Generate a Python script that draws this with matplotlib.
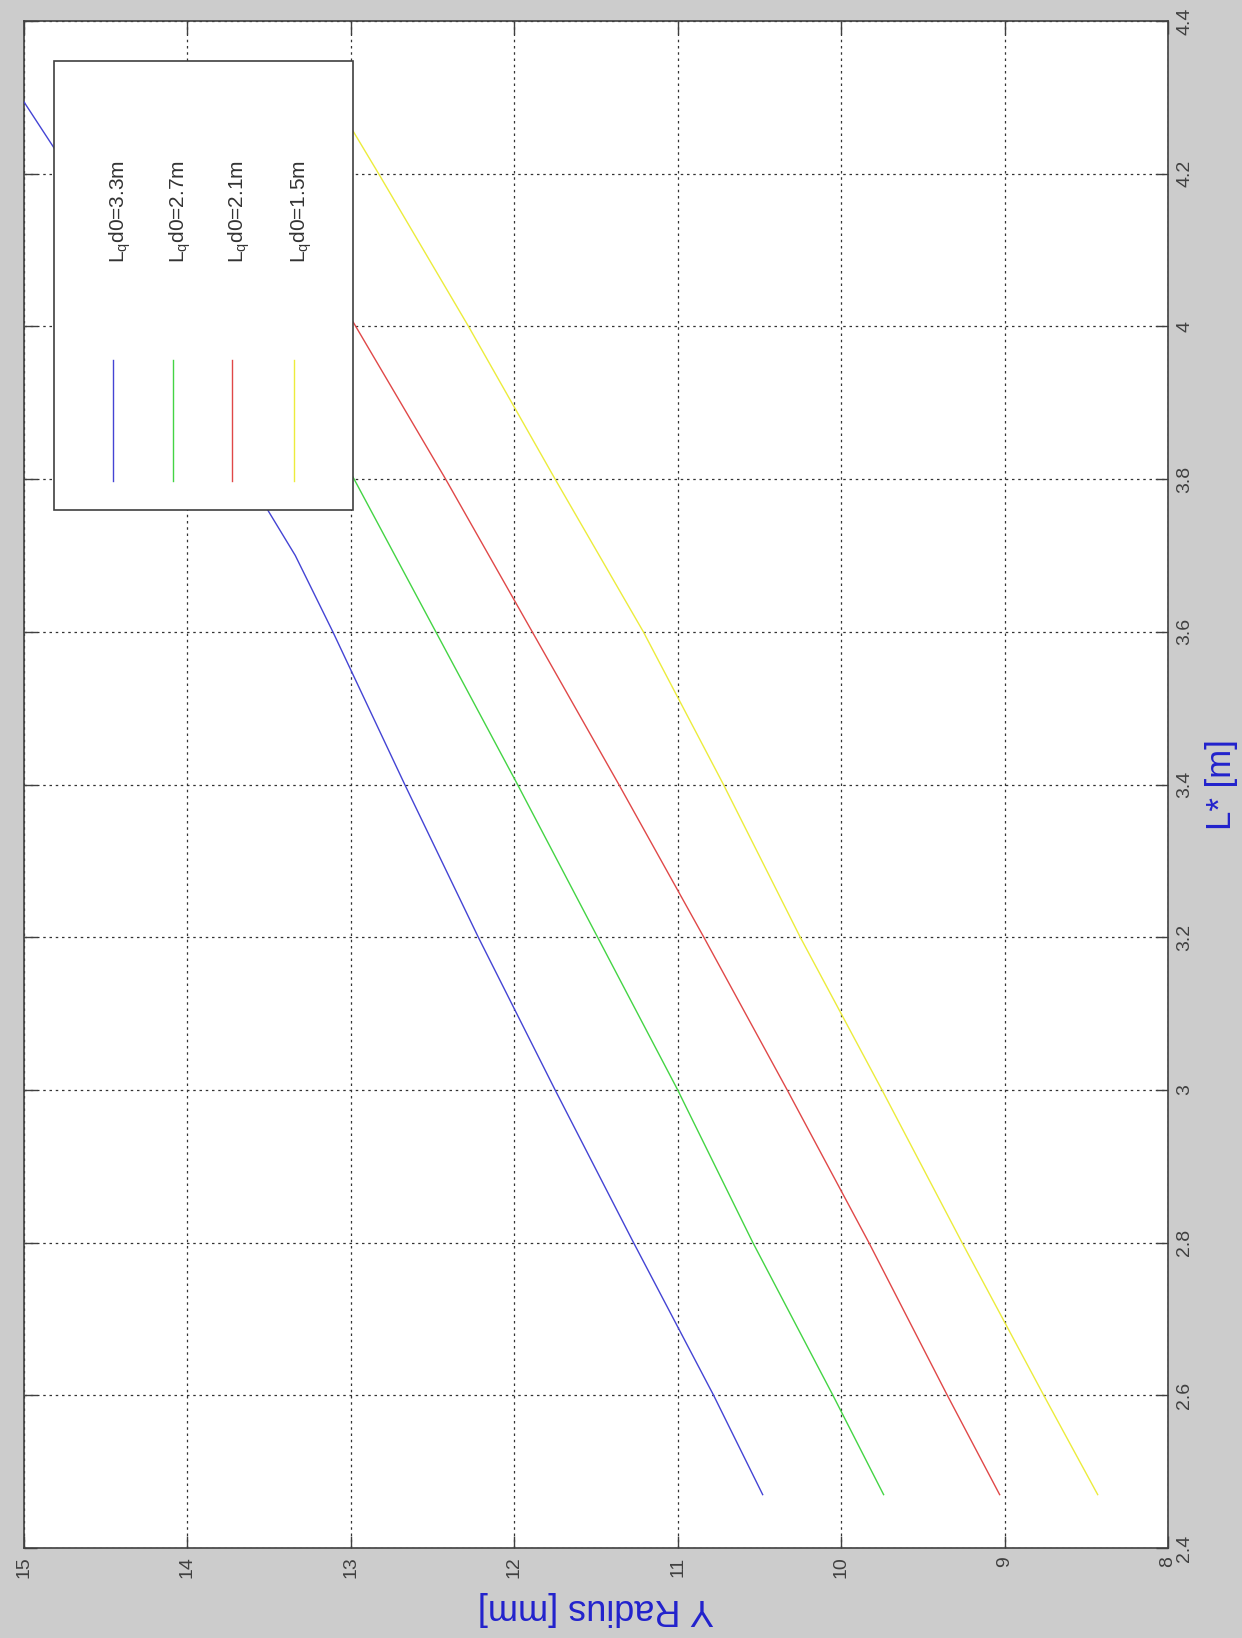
import matplotlib
matplotlib.use("Agg")
import matplotlib.pyplot as plt
from matplotlib.patches import Rectangle

plt.rcParams['font.family'] = ['Liberation Sans', 'DejaVu Sans']
plt.rcParams['mathtext.default'] = 'regular'

# data: L* [m] against Y radius [mm]
L_33 = [2.47, 2.6, 2.8, 3.0, 3.2, 3.4, 3.6, 3.7, 3.76, 4.235, 4.294]
r_33 = [10.48, 10.78, 11.27, 11.75, 12.22, 12.67, 13.11, 13.34, 13.51, 14.82, 15.0]
L_27 = [2.47, 2.6, 2.8, 3.0, 3.2, 3.4, 3.6, 3.8, 4.3]
r_27 = [9.74, 10.05, 10.54, 11.0, 11.49, 11.98, 12.48, 12.98, 14.28]
L_21 = [2.47, 2.6, 2.8, 3.0, 3.2, 3.4, 3.6, 3.8, 4.0, 4.3]
r_21 = [9.03, 9.35, 9.83, 10.33, 10.84, 11.36, 11.89, 12.42, 12.97, 13.8]
L_15 = [2.47, 2.6, 2.8, 3.0, 3.2, 3.4, 3.6, 3.8, 4.0, 4.2, 4.3]
r_15 = [8.43, 8.76, 9.26, 9.75, 10.25, 10.72, 11.21, 11.75, 12.28, 12.83, 13.11]

labels = [r'L$_q$d0=3.3m', r'L$_q$d0=2.7m', r'L$_q$d0=2.1m', r'L$_q$d0=1.5m']
colors = ['#4444d4', '#44d444', '#e04848', '#ecec3c']

r_ticks = [8, 9, 10, 11, 12, 13, 14, 15]
L_ticks = [2.4, 2.6, 2.8, 3.0, 3.2, 3.4, 3.6, 3.8, 4.0, 4.2, 4.4]
L_ticklbls = ['2.4', '2.6', '2.8', '3', '3.2', '3.4', '3.6', '3.8', '4', '4.2', '4.4']

fig = plt.figure(figsize=(12.42, 16.38), dpi=100, facecolor='#cccccc')
ax = fig.add_axes([0.0193, 0.0549, 0.9211, 0.9323])
ax.set_facecolor('white')

# the whole matlab figure is turned a quarter turn, so radius runs along the bottom
series = [(L_33, r_33), (L_27, r_27), (L_21, r_21), (L_15, r_15)]
for (L, r), c in zip(series, colors):
    ax.plot(r, L, color=c, lw=1.0, zorder=3)

ax.set_xlim(15, 8)
ax.set_ylim(2.4, 4.4)
ax.set_xticks(r_ticks)
ax.set_xticklabels([str(t) for t in r_ticks])
ax.set_yticks(L_ticks)
ax.set_yticklabels(L_ticklbls)

ax.grid(True, color='#333333', linestyle=(0, (2, 3)), lw=0.9)
ax.tick_params(direction='in', length=9, width=1, colors='#404040',
               top=True, bottom=True, left=True, right=True,
               labelleft=False, labelright=True, labelsize=14, pad=6)
ax.tick_params(axis='x', labelrotation=90)
ax.tick_params(axis='y', labelrotation=90)
plt.setp(ax.get_yticklabels(), va='center')
for s in ax.spines.values():
    s.set_color('#404040')
    s.set_linewidth(1.2)

ax.set_xlabel('Y Radius [mm]', rotation=180, color='#2222cc', fontsize=26)
ax.xaxis.set_label_coords(0.5, -0.028)
ax.yaxis.set_label_position('right')
ax.set_ylabel('L* [m]', rotation=90, color='#2222cc', fontsize=25)
ax.yaxis.set_label_coords(1.032, 0.5)

# legend drawn by hand, turned like the rest
ax.add_patch(Rectangle((0.0262, 0.6798), 0.2614, 0.294, transform=ax.transAxes,
                       facecolor='white', edgecolor='#404040', lw=1.2, zorder=5))
leg_x = [0.0778, 0.1302, 0.1818, 0.2360]
for x, c, lb in zip(leg_x, colors, labels):
    ax.plot([x, x], [0.6988, 0.778], color=c, lw=1.0, transform=ax.transAxes, zorder=6)
    ax.text(x + 0.006, 0.875, lb, rotation=90, ha='center', va='center',
            fontsize=15, color='#333333', transform=ax.transAxes, zorder=6)

fig.savefig('out.png', dpi=100, facecolor=fig.get_facecolor())
